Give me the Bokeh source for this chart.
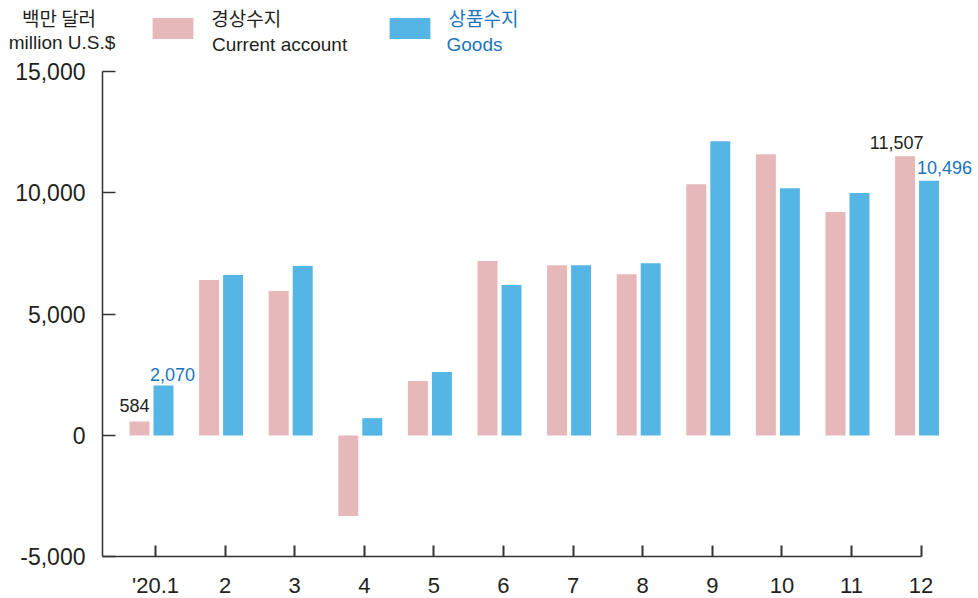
from bokeh.plotting import figure
from bokeh.models import (ColumnDataSource, Range1d, FixedTicker, NumeralTickFormatter,
                          Legend, LegendItem, Label)
from bokeh.core.properties import value
from bokeh.embed import file_html
from bokeh.resources import INLINE

# ---- data ----
months = ["'20.1", "2", "3", "4", "5", "6", "7", "8", "9", "10", "11", "12"]
current_account = [584, 6410, 5960, -3310, 2250, 7190, 7020, 6650, 10360, 11590, 9210, 11507]
goods = [2070, 6620, 6990, 720, 2620, 6200, 7020, 7100, 12130, 10190, 9990, 10496]
y_ticks = [-5000, 0, 5000, 10000, 15000]
series_names = [("경상수지", "Current account"), ("상품수지", "Goods")]
unit_names = ("백만 달러", "million U.S.$")

PINK = "#e6b8ba"
BLUE = "#55b5e5"
DARK = "#231f20"
BLUE_TXT = "#1b75bc"
FONT = "Liberation Sans"
KFONT = "Noto Sans CJK KR"

idx = list(range(len(months)))
d_ca, d_gd, bw = -0.23, 0.115, 0.287

src = ColumnDataSource(dict(
    xc=[i + d_ca for i in idx], xg=[i + d_gd for i in idx],
    ca=current_account, gd=goods))

W, H = 978, 598
# frame spans the whole canvas; axes are pinned at fixed data locations
X0, X1 = -2.227, 11.825
Y0, Y1 = -6709.6, 17924.8
X_AXIS_AT = -0.7615
p = figure(width=W, height=H, output_backend="svg", toolbar_location=None,
           x_range=Range1d(X0, X1), y_range=Range1d(Y0, Y1), min_border=0)
p.outline_line_color = None
p.grid.visible = False
p.background_fill_color = "white"
p.border_fill_color = "white"

r_ca = p.vbar(x="xc", top="ca", bottom=0, width=bw, source=src, fill_color=PINK, line_color=None)
r_gd = p.vbar(x="xg", top="gd", bottom=0, width=bw, source=src, fill_color=BLUE, line_color=None)

# value labels for first and last month
lab_src = ColumnDataSource(dict(
    x=[idx[0] + d_ca, idx[0] + d_gd, idx[-1] + d_ca, idx[-1] + d_gd],
    y=[current_account[0], goods[0], current_account[-1], goods[-1]],
    t=[f"{current_account[0]:,}", f"{goods[0]:,}", f"{current_account[-1]:,}", f"{goods[-1]:,}"],
    c=[DARK, BLUE_TXT, DARK, BLUE_TXT],
    xo=[-5, 9, -8.5, 15.5], yo=[-15.5, -11, -14, -13]))
p.text(x="x", y="y", text="t", source=lab_src, text_color="c", x_offset="xo", y_offset="yo",
       text_align="center", text_baseline="alphabetic",
       text_font=value(FONT), text_font_size="18px")

# axes
xa = p.xaxis[0]
xa.fixed_location = y_ticks[0]
xa.ticker = FixedTicker(ticks=idx)
xa.major_label_overrides = {i: m for i, m in zip(idx, months)}
xa.bounds = (X_AXIS_AT, idx[-1])
xa.axis_line_color = "#333333"
xa.axis_line_width = 1.5
xa.major_tick_in = 11
xa.major_tick_out = 0
xa.major_tick_line_width = 2
xa.major_tick_line_color = "#333333"
xa.minor_tick_line_color = None
xa.major_label_text_font = FONT
xa.major_label_text_font_size = "22px"
xa.major_label_text_color = DARK
xa.major_label_standoff = 16

ya = p.yaxis[0]
ya.fixed_location = X_AXIS_AT
ya.ticker = FixedTicker(ticks=y_ticks)
ya.formatter = NumeralTickFormatter(format="0,0")
ya.bounds = (y_ticks[0], y_ticks[-1])
ya.axis_line_color = "#333333"
ya.axis_line_width = 1.5
ya.major_tick_in = 13
ya.major_tick_out = 0
ya.major_tick_line_width = 1.5
ya.major_tick_line_color = "#333333"
ya.minor_tick_line_color = None
ya.major_label_text_font = FONT
ya.major_label_text_font_size = "23px"
ya.major_label_text_color = DARK
ya.major_label_standoff = 17

# legend swatches (bar legend glyphs are inset by 10% of the glyph box)
for r, lx in ((r_ca, 146.9), (r_gd, 383.9)):
    lg = Legend(items=[LegendItem(label=" ", renderers=[r])], location=(lx, 557.4),
                glyph_width=51, glyph_height=26, padding=0, margin=0, spacing=0,
                label_standoff=0, label_text_font_size="1px",
                border_line_color=None, background_fill_alpha=0)
    p.add_layout(lg, "center")

# legend / unit texts (screen units, from the canvas' bottom-left)
def add_label(text, x, y, font, size, color, align, baseline):
    p.add_layout(Label(x=x, y=y, x_units="screen", y_units="screen", text=text,
                       text_font=font, text_font_size=size, text_color=color,
                       text_align=align, text_baseline=baseline))

add_label(unit_names[0], 58.5, 581.5, KFONT, "19px", DARK, "center", "middle")
add_label(unit_names[1], 61.5, 556, FONT, "19px", DARK, "center", "alphabetic")
add_label(series_names[0][0], 210.8, 580.6, KFONT, "19px", DARK, "left", "middle")
add_label(series_names[0][1], 211.5, 554, FONT, "19px", DARK, "left", "alphabetic")
add_label(series_names[1][0], 448, 580.6, KFONT, "19px", BLUE_TXT, "left", "middle")
add_label(series_names[1][1], 446, 554, FONT, "19px", BLUE_TXT, "left", "alphabetic")

open("out.html", "w").write(file_html(p, INLINE))
